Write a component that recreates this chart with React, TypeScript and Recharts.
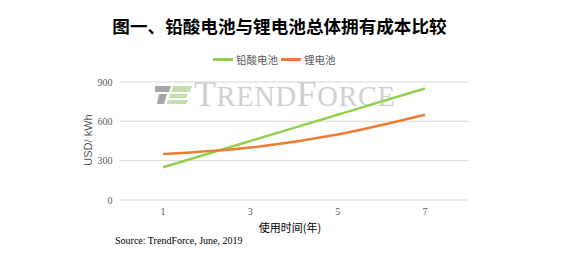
import React from 'react';
import { LineChart, Line, XAxis, YAxis, CartesianGrid } from 'recharts';

const years = ['1', '3', '5', '7'];
const leadAcid = [250, 450, 650, 850];
const lithium = [350, 400, 500, 650];
const yTicks = [0, 300, 600, 900];

const seriesNames = ['铅酸电池', '锂电池'];
const COLORS = ['#92D050', '#ED7D31'];

const data = years.map((y, i) => ({ year: y, lead: leadAcid[i], li: lithium[i] }));

const serif = '"Liberation Serif", "Times New Roman", serif';
const sans = '"Noto Sans CJK SC", "Liberation Sans", sans-serif';

const Watermark: React.FC = () => (
  <div style={{ position: 'absolute', left: 155, top: 76, display: 'flex', alignItems: 'flex-end' }}>
    <svg width={38} height={22} style={{ marginRight: 1, marginBottom: 6 }}>
      <polygon points="0,2 16,2 14,8 0,8" fill="#a6a6a6" />
      <polygon points="4,10 12,10 9,20 2,20" fill="#a6a6a6" />
      <polygon points="18,2 37,2 35,8 16,8" fill="#c4dcae" />
      <polygon points="15,10 33,10 31,14 14,14" fill="#c4dcae" />
      <polygon points="13,16 33,16 31,20 12,20" fill="#c4dcae" />
    </svg>
    <div style={{ fontFamily: serif, color: '#cfcfcf', lineHeight: 1, letterSpacing: 0.6 }}>
      <span style={{ fontSize: 36 }}>T</span>
      <span style={{ fontSize: 28.5 }}>REND</span>
      <span style={{ fontSize: 36 }}>F</span>
      <span style={{ fontSize: 28.5 }}>ORCE</span>
    </div>
  </div>
);

const App: React.FC = () => {
  return (
    <div style={{ position: 'absolute', left: 0, top: 0, width: 566, height: 265, background: '#fff', fontFamily: sans }}>
      <div style={{ position: 'absolute', top: 13, left: 0, width: 559, textAlign: 'center', fontSize: 17.6, fontWeight: 700, color: '#000' }}>
        图一、铅酸电池与锂电池总体拥有成本比较
      </div>
      <div style={{ position: 'absolute', top: 52, left: 213, display: 'flex', alignItems: 'center', fontSize: 10.5, color: '#595959' }}>
        {seriesNames.map((n, i) => (
          <div key={n} style={{ display: 'flex', alignItems: 'center', marginRight: 3 }}>
            <span style={{ display: 'inline-block', width: 20, height: 2.5, background: COLORS[i], marginRight: 3 }} />
            <span>{n}</span>
          </div>
        ))}
      </div>
      <Watermark />
      <div style={{ position: 'absolute', left: 0, top: 0 }}>
        <LineChart width={566} height={265} data={data} margin={{ top: 82, right: 97.5, bottom: 45, left: 0 }}>
          <CartesianGrid vertical={false} stroke="#d9d9d9" />
          <XAxis
            dataKey="year"
            height={20}
            padding={{ left: 43.6, right: 43.6 }}
            axisLine={false}
            tickLine={false}
            tickSize={0}
            tickMargin={8}
            tick={{ fontSize: 10, fill: '#595959', fontFamily: serif }}
          />
          <YAxis
            width={119.5}
            domain={[0, 900]}
            ticks={yTicks}
            axisLine={false}
            tickLine={false}
            tickSize={0}
            tickMargin={7}
            tick={{ fontSize: 10, fill: '#595959', fontFamily: serif }}
          />
          <Line type="monotone" dataKey="lead" name={seriesNames[0]} stroke={COLORS[0]} strokeWidth={2.5} dot={false} isAnimationActive={false} />
          <Line type="monotone" dataKey="li" name={seriesNames[1]} stroke={COLORS[1]} strokeWidth={2.5} dot={false} isAnimationActive={false} />
        </LineChart>
      </div>
      <div style={{ position: 'absolute', left: 88, top: 140, transform: 'translate(-50%, -50%) rotate(-90deg)', fontSize: 11, color: '#595959', fontFamily: '"Liberation Sans", sans-serif', whiteSpace: 'nowrap' }}>
        USD/ kWh
      </div>
      <div style={{ position: 'absolute', left: 290, top: 227, transform: 'translate(-50%, -50%)', fontSize: 11, color: '#000', whiteSpace: 'nowrap' }}>
        使用时间(年)
      </div>
      <div style={{ position: 'absolute', left: 115, top: 235, fontSize: 10, color: '#000', fontFamily: serif, whiteSpace: 'nowrap' }}>
        Source: TrendForce, June, 2019
      </div>
    </div>
  );
};

export default App;
